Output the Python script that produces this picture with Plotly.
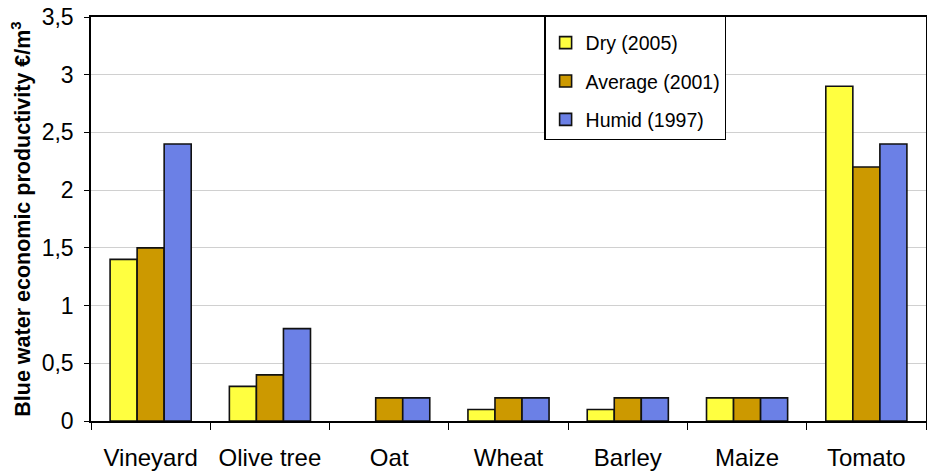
import plotly.graph_objects as go

categories = ["Vineyard", "Olive tree", "Oat", "Wheat", "Barley", "Maize", "Tomato"]
dry_2005 = [1.4, 0.3, 0.0, 0.1, 0.1, 0.2, 2.9]
average_2001 = [1.5, 0.4, 0.2, 0.2, 0.2, 0.2, 2.2]
humid_1997 = [2.4, 0.8, 0.2, 0.2, 0.2, 0.2, 2.4]
series_names = ["Dry (2005)", "Average (2001)", "Humid (1997)"]
colors = ["#FFFF40", "#CC9900", "#6B80E6"]
y_ticks = [0, 0.5, 1, 1.5, 2, 2.5, 3, 3.5]

FONT = "Liberation Sans, Arial, Helvetica, sans-serif"

fig = go.Figure()
for i, (name, vals) in enumerate(zip(series_names, [dry_2005, average_2001, humid_1997])):
    widths = [1.6 if v > 0 else 0 for v in vals]
    fig.add_trace(go.Bar(
        x=categories, y=vals, name=name, legendgroup=name,
        marker=dict(color=colors[i], line=dict(color="#111111", width=widths)),
    ))

fig.update_layout(
    width=927, height=472,
    margin=dict(l=91, r=1, t=17, b=51),
    paper_bgcolor="white", plot_bgcolor="white",
    separators=",.",
    barmode="group", bargap=0.32, bargroupgap=0,
    font=dict(family=FONT, color="black"),
    showlegend=True,
    legend=dict(
        x=0.543, y=1.003, xanchor="left", yanchor="top",
        bordercolor="black", borderwidth=1.2, bgcolor="white",
        font=dict(size=19.5, family=FONT),
        traceorder="grouped", tracegroupgap=10,
        itemwidth=30,
        title=dict(text=" ", font=dict(size=5)),
    ),
    xaxis=dict(
        automargin=False,
        showline=True, linecolor="black", linewidth=1.5, mirror=True,
        ticks="outside", tickson="boundaries", ticklen=7, tickcolor="black",
        tickfont=dict(size=24), ticklabelstandoff=14,
    ),
    yaxis=dict(
        automargin=False,
        range=[0, 3.5], tickvals=y_ticks,
        showline=True, linecolor="black", linewidth=1.5, mirror=True,
        ticks="outside", ticklen=5, tickcolor="black",
        showgrid=True, gridcolor="#D0D0D0", gridwidth=1,
        tickfont=dict(size=23), ticklabelstandoff=6,
        title=dict(text="<b>Blue water economic productivity €/m<sup>3</sup></b>",
                   font=dict(size=21.5), standoff=5),
    ),
)

fig.write_html(
    "out.html",
    config={"displayModeBar": False},
    post_script="document.body.style.margin='0';document.body.style.overflow='hidden';",
)
